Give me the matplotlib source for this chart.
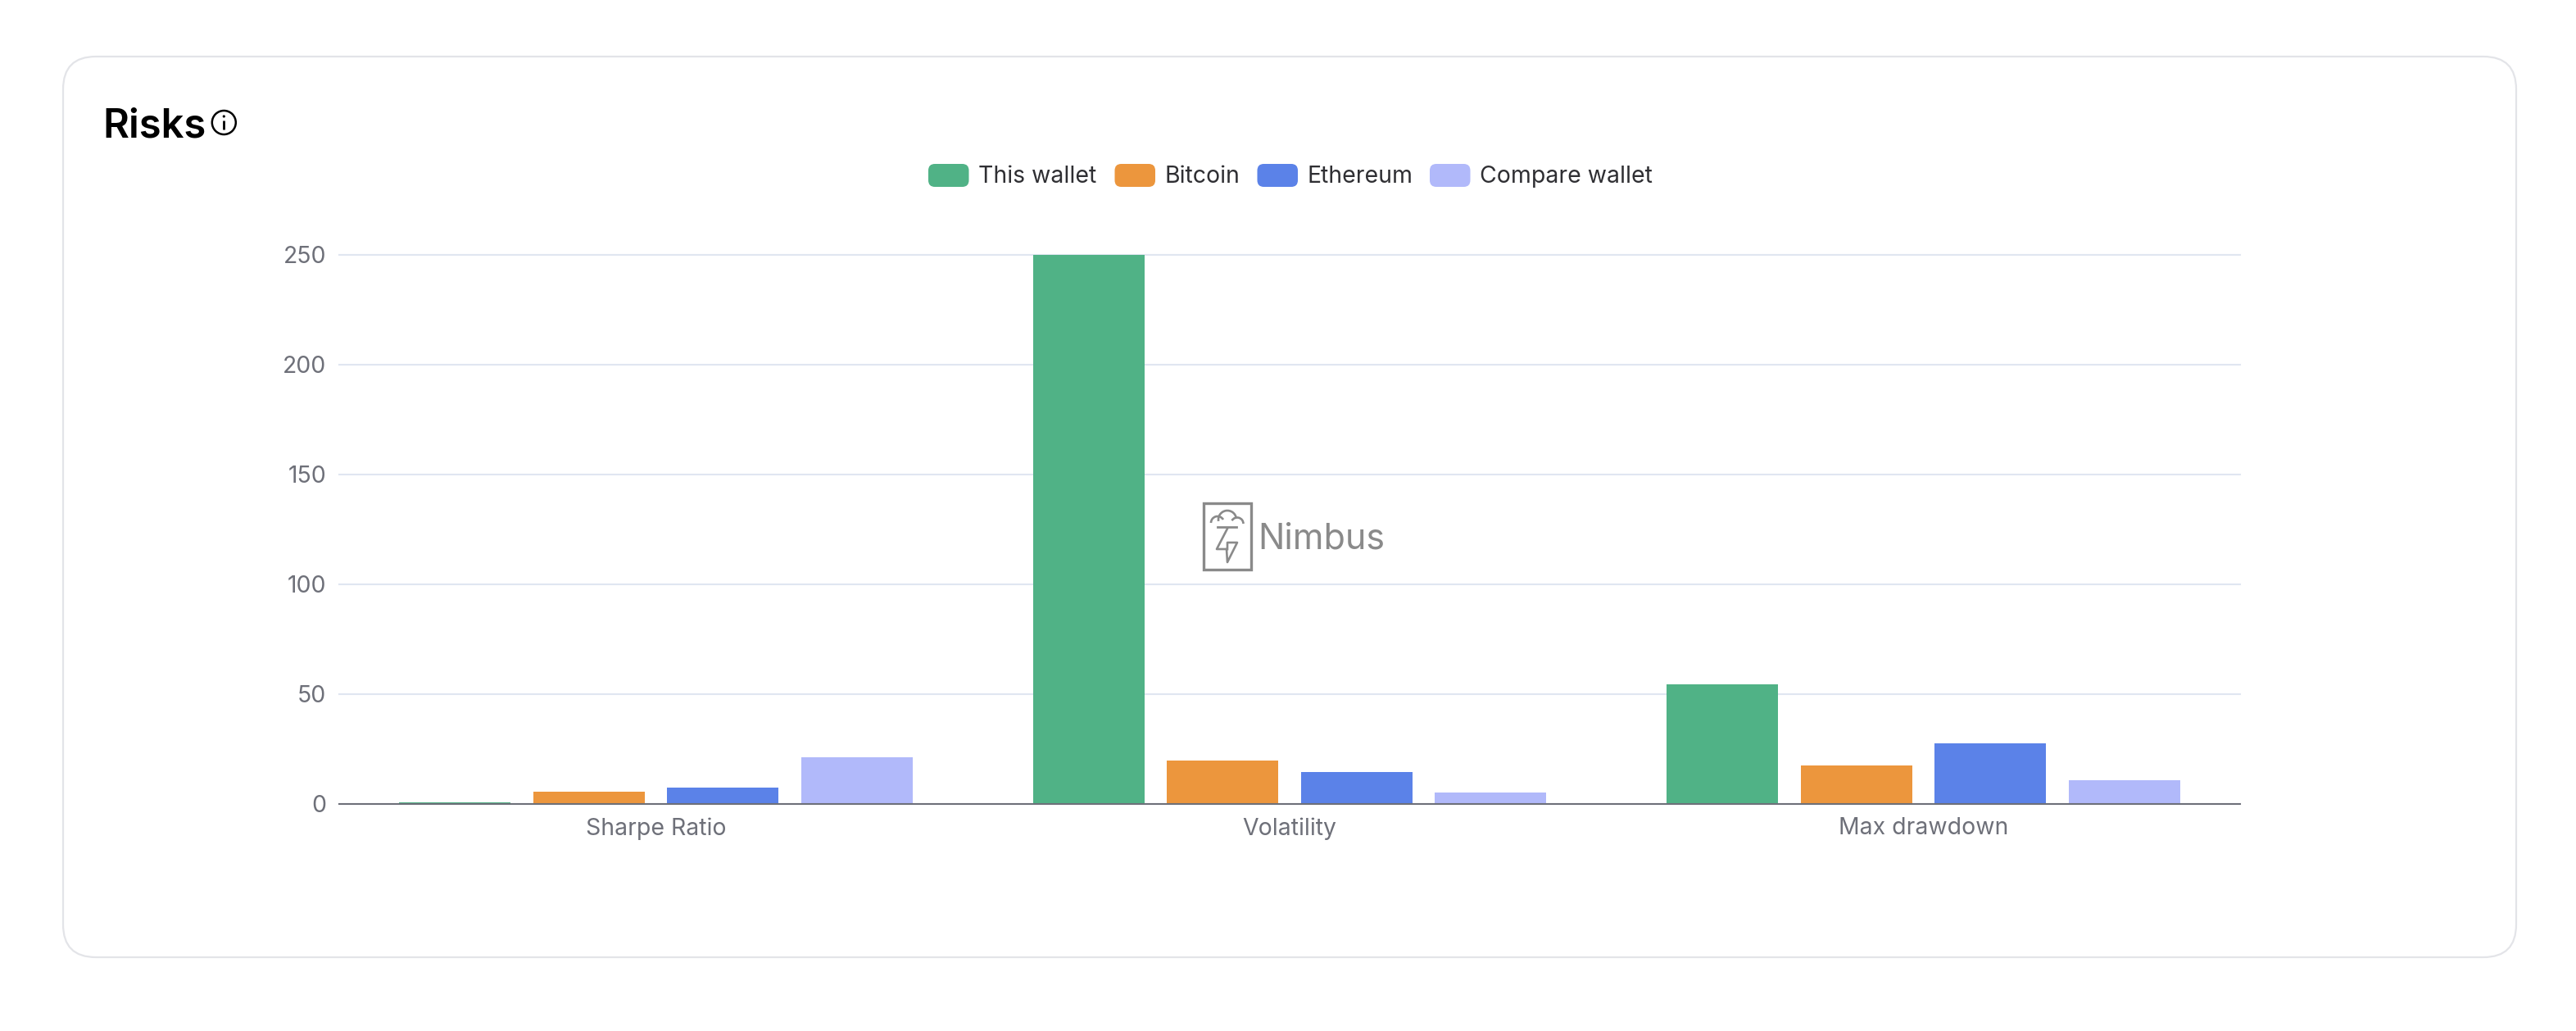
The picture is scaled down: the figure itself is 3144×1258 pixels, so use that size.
import matplotlib
matplotlib.use("Agg")
import matplotlib.pyplot as plt
from matplotlib.patches import FancyBboxPatch, Rectangle, Circle, Arc
import numpy as np

categories = ["Sharpe Ratio", "Volatility", "Max drawdown"]
series_names = ["This wallet", "Bitcoin", "Ethereum", "Compare wallet"]
this_wallet = [0.6, 250, 54.4]
bitcoin = [5.6, 19.6, 17.4]
ethereum = [7.5, 14.4, 27.6]
compare_wallet = [21.3, 5.1, 10.8]
series_values = [this_wallet, bitcoin, ethereum, compare_wallet]
series_colors = ["#50B286", "#EC963D", "#5B82E8", "#B1B9FA"]
y_ticks = [0, 50, 100, 150, 200, 250]

W, H = 3144, 1258
plt.rcParams['font.family'] = ['Inter', 'DejaVu Sans']
fig = plt.figure(figsize=(W / 100, H / 100), dpi=100, facecolor="white")

def fs(px):
    return px * 0.72

# page overlay in pixel coordinates
bg = fig.add_axes([0, 0, 1, 1], zorder=0)
bg.set_xlim(0, W); bg.set_ylim(H, 0); bg.axis("off")
card = FancyBboxPatch((77, 69), 2994, 1099, boxstyle="round,pad=0,rounding_size=40",
                      fc="white", ec="#E3E4E8", lw=1.6)
bg.add_patch(card)
bg.text(125, 168, "Risks", fontsize=fs(49), fontweight=600, color="black", va="baseline", ha="left")
bg.add_patch(Circle((273.3, 149.5), 14.5, fc="none", ec="black", lw=1.8))
bg.plot([273.3, 273.3], [147, 158], color="black", lw=2.0, solid_capstyle="butt")
bg.add_patch(Circle((273.3, 142), 1.6, fc="black", ec="none"))

# legend
leg_x = [1133, 1360.5, 1534.5, 1745]
for name, col, x in zip(series_names, series_colors, leg_x):
    bg.add_patch(FancyBboxPatch((x, 200), 49.5, 28, boxstyle="round,pad=0,rounding_size=8", fc=col, ec="none"))
    bg.text(x + 60.5, 222.7, name, fontsize=fs(28.4), color="#2F2F33", va="baseline", ha="left")

# chart
x0, x1, ytop, ybot = 414, 2734, 310.7, 980.7
ax = fig.add_axes([x0 / W, 1 - ybot / H, (x1 - x0) / W, (ybot - ytop) / H], zorder=1)
ax.patch.set_alpha(0)
ax.set_xlim(-0.5, 2.5)
ax.set_ylim(0, 250)
step = 163.5 / ((x1 - x0) / 3)
width = 136 / ((x1 - x0) / 3)
xs = np.arange(len(categories))
for i, (vals, col) in enumerate(zip(series_values, series_colors)):
    ax.bar(xs + (i - 1.5) * step, vals, width=width, color=col, zorder=3, clip_on=True)
ax.set_yticks(y_ticks)
ax.set_xticks(xs)
ax.set_xticklabels(categories)
ax.grid(axis="y", color="#E0E6F1", lw=1.5, zorder=1, clip_on=False)
ax.grid(axis="x", visible=False)
for s in ["top", "left", "right"]:
    ax.spines[s].set_visible(False)
ax.spines["bottom"].set_color("#6E7079")
ax.spines["bottom"].set_linewidth(1.5)
ax.spines["bottom"].set_zorder(4)
ax.tick_params(axis="both", length=0, labelsize=fs(28.4), labelcolor="#6E7079")
ax.tick_params(axis="x", pad=fs(16.5))
ax.tick_params(axis="y", pad=fs(16))

# watermark
wm = "#8A8A8A"
bg2 = fig.add_axes([0, 0, 1, 1], zorder=2)
bg2.set_xlim(0, W); bg2.set_ylim(H, 0); bg2.axis("off")
bg2.add_patch(Rectangle((1469, 614), 58, 81, fc="none", ec=wm, lw=2.4))
bg2.add_patch(Arc((1486, 638), 16, 16, theta1=180, theta2=330, ec=wm, lw=1.9))
bg2.add_patch(Arc((1498, 634), 22, 22, theta1=170, theta2=350, ec=wm, lw=1.9))
bg2.add_patch(Arc((1510, 639), 15, 15, theta1=210, theta2=360, ec=wm, lw=1.9))
bg2.plot([1486, 1509], [643, 643], color=wm, lw=2.0)
bg2.plot([1498, 1485, 1497, 1498, 1510, 1498, 1498],
         [645, 670, 670, 686, 662, 662, 670], color=wm, lw=1.9)
bg2.text(1535, 669, "Nimbus", fontsize=fs(43), color=wm, va="baseline", ha="left")

fig.savefig("out.png", dpi=100, facecolor="white")
